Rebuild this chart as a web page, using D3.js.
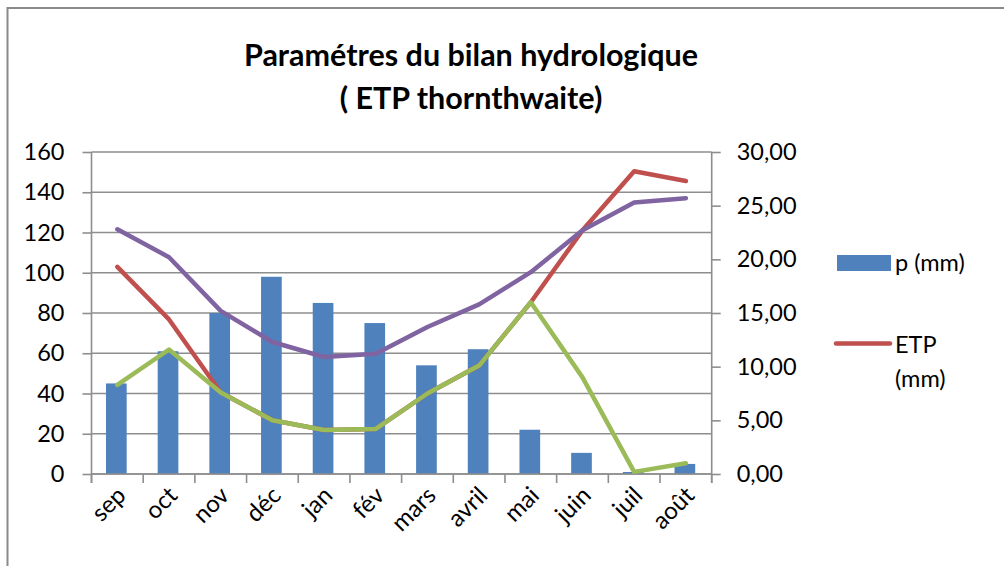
<!DOCTYPE html>
<html><head><meta charset="utf-8">
<script src="https://cdn.jsdelivr.net/npm/d3@7/dist/d3.min.js"></script>
<style>body{margin:0;background:#fff;} svg{display:block;font-family:Lato,"Open Sans",sans-serif;}</style>
</head><body>
<script>
const months = ["sep","oct","nov","déc","jan","fév","mars","avril","mai","juin","juil","août"];
const precip = [45, 61, 80, 98, 85, 75, 54, 62, 22, 10.5, 1, 5];
const etp = [19.3, 14.4, 7.6, 5.0, 4.1, 4.2, 7.5, 10.1, 16.0, 22.7, 28.2, 27.3];
const purpleSeries = [22.8, 20.2, 15.2, 12.3, 10.9, 11.2, 13.7, 15.8, 18.8, 22.7, 25.3, 25.7];
const greenSeries = [8.3, 11.6, 7.6, 5.0, 4.1, 4.2, 7.5, 10.1, 16.0, 9.0, 0.2, 1.0];
const leftTicks = [0,20,40,60,80,100,120,140,160];
const rightTicks = [0,5,10,15,20,25,30];
const titleLines = ["Paramétres du bilan hydrologique", "( ETP thornthwaite)"];
const legendItems = ["p (mm)", "ETP (mm)"];

const W = 1004, H = 566;
const L = 91.5, R = 711.7, T = 152, B = 474;
const FS = 23.5;
const svg = d3.select("body").append("svg").attr("width", W).attr("height", H);

svg.append("path").attr("d", `M7.5,${H} L7.5,8 L${W},8`).attr("fill","none").attr("stroke","#8a8a8a").attr("stroke-width",2);

const x = d3.scaleBand().domain(months).range([L, R]).padding(0);
const yL = d3.scaleLinear().domain([0,160]).range([B, T]);
const yR = d3.scaleLinear().domain([0,30]).range([B, T]);
const loc = d3.formatLocale({decimal: ",", thousands: " ", grouping: [3], currency: ["", "€"]});
const fmtR = loc.format(".2f");

const gridC = "#8e8e8e";
svg.append("g").selectAll("line").data(leftTicks).join("line")
  .attr("x1", L).attr("x2", R).attr("y1", d=>yL(d)).attr("y2", d=>yL(d))
  .attr("stroke", gridC).attr("stroke-width", 1.6);

const gl = svg.append("g").attr("transform", `translate(${L},0)`)
  .call(d3.axisLeft(yL).tickValues(leftTicks).tickSize(9).tickPadding(18));
gl.select(".domain").remove();
gl.selectAll(".tick line").attr("stroke", gridC).attr("stroke-width", 1.6);
gl.selectAll("text").attr("font-size", FS).attr("fill","#000").attr("font-family","Lato");
svg.append("line").attr("x1",L).attr("x2",L).attr("y1",T).attr("y2",B+9).attr("stroke",gridC).attr("stroke-width",1.6);

const gr = svg.append("g").attr("transform", `translate(${R},0)`)
  .call(d3.axisRight(yR).tickValues(rightTicks).tickFormat(fmtR).tickSize(9).tickPadding(16));
gr.select(".domain").remove();
gr.selectAll(".tick line").attr("stroke", gridC).attr("stroke-width", 1.6);
gr.selectAll("text").attr("font-size", FS).attr("fill","#000").attr("font-family","Lato");
svg.append("line").attr("x1",R).attr("x2",R).attr("y1",T).attr("y2",B+9).attr("stroke",gridC).attr("stroke-width",1.6);

const bw = x.bandwidth()*0.4;
svg.append("g").selectAll("rect").data(precip).join("rect")
  .attr("x", (d,i)=>x(months[i]) + x.bandwidth()/2 - bw/2 - 1)
  .attr("width", bw)
  .attr("y", d=>yL(d)).attr("height", d=>yL(0)-yL(d))
  .attr("fill", "#4f81bd");

const gb = svg.append("g").attr("transform", `translate(0,${B})`)
  .call(d3.axisBottom(x).tickSize(0).tickFormat(""));
gb.select(".domain").attr("stroke", gridC).attr("stroke-width", 1.6).attr("d", `M${L},0H${R}`);
gb.selectAll(".tick").remove();
const bticks = months.map(m=>x(m)).concat([R]);
svg.append("g").selectAll("line").data(bticks).join("line")
  .attr("x1", d=>d).attr("x2", d=>d).attr("y1", B).attr("y2", B+9)
  .attr("stroke", gridC).attr("stroke-width", 1.6);
svg.append("g").selectAll("text").data(months).join("text")
  .attr("transform", d=>`translate(${x(d)+x.bandwidth()/2-2},${B+11}) rotate(-45)`)
  .attr("text-anchor","end").attr("dy","0.7em")
  .attr("font-size", FS+0.5).attr("fill","#000").text(d=>d);

const line = d3.line().x((d,i)=>x(months[i])+x.bandwidth()/2).y(d=>yR(d));
[[etp,"#c0504d"],[purpleSeries,"#8064a2"],[greenSeries,"#9bbb59"]].forEach(([s,c])=>{
  svg.append("path").datum(s).attr("d", line).attr("fill","none").attr("stroke",c)
    .attr("stroke-width",4.5).attr("stroke-linejoin","round").attr("stroke-linecap","round");
});

svg.append("rect").attr("x",837).attr("y",255).attr("width",54).attr("height",16).attr("fill","#4f81bd");
svg.append("text").attr("x",895).attr("y",263).attr("dy","0.35em").attr("font-size",FS).text(legendItems[0]);
svg.append("line").attr("x1",836).attr("x2",890).attr("y1",343.5).attr("y2",343.5).attr("stroke","#c0504d").attr("stroke-width",4.5).attr("stroke-linecap","round");
const lt = svg.append("text").attr("x",895).attr("y",345).attr("dy","0.35em").attr("font-size",FS);
lt.append("tspan").attr("x",895).text(legendItems[1].split(" ")[0]);
lt.append("tspan").attr("x",895).attr("dy","1.45em").text(legendItems[1].split(" ")[1]);

svg.append("g").selectAll("text").data(titleLines).join("text")
  .attr("x", 471).attr("y", (d,i)=>55 + i*43).attr("dy","0.35em")
  .attr("text-anchor","middle").attr("font-size",30.5).attr("font-weight","bold").text(d=>d);
</script>
</body></html>
